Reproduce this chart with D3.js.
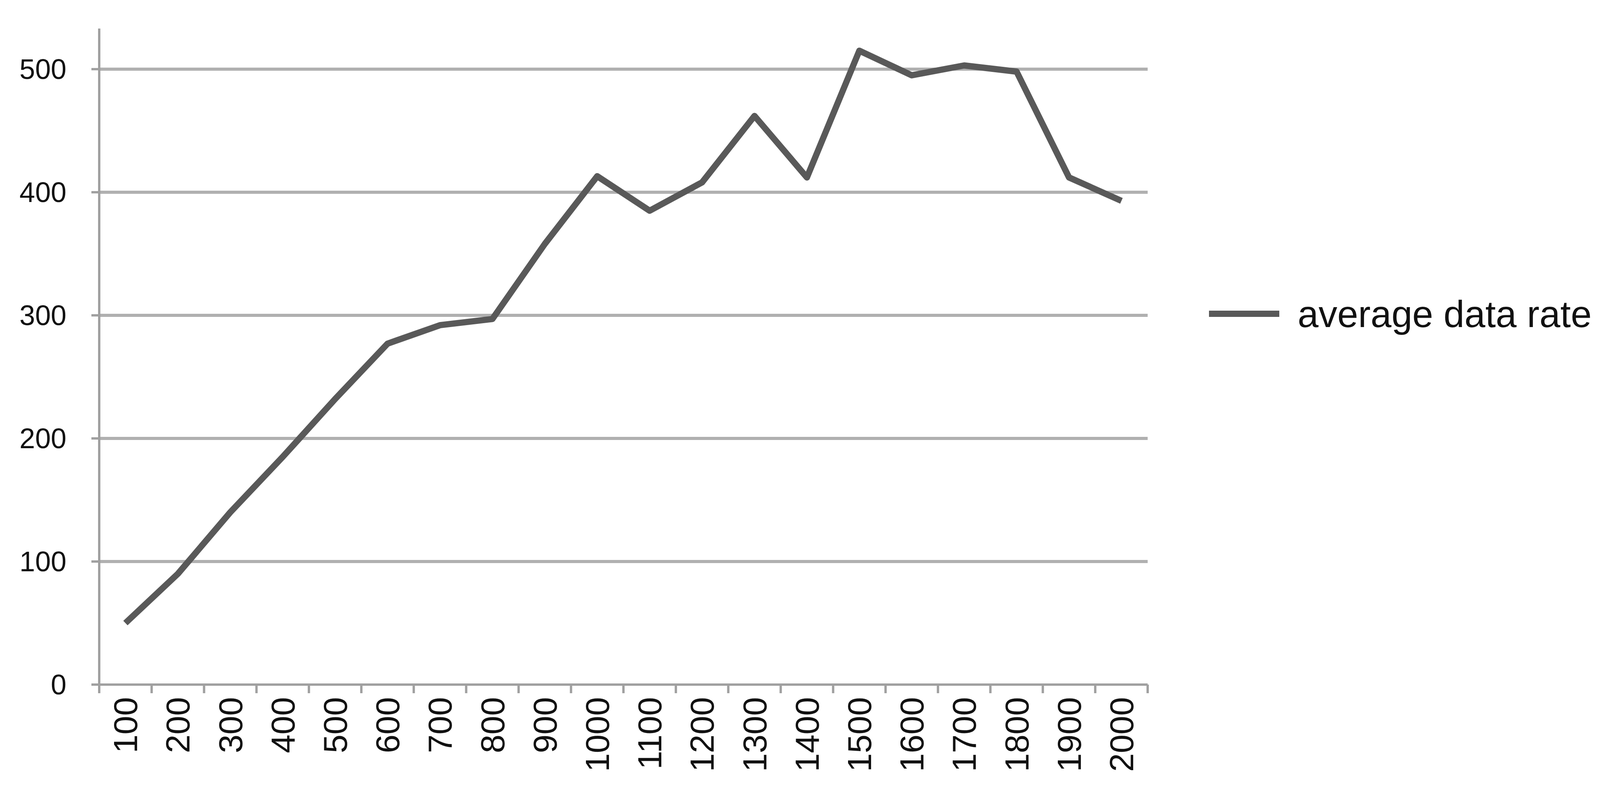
<!DOCTYPE html>
<html><head><meta charset="utf-8">
<script src="https://cdn.jsdelivr.net/npm/d3@7"></script>
<style>body{margin:0;background:#fff}</style></head>
<body><svg id="c" width="4113" height="2055"></svg>
<script>
const categories=["100","200","300","400","500","600","700","800","900","1000","1100","1200","1300","1400","1500","1600","1700","1800","1900","2000"];
const values=[50,90,140,185,232,277,292,297,358,413,385,408,462,412,515,495,503,498,412,393];
const yTicks=[0,100,200,300,400,500];
const seriesName="average data rate";

const svg=d3.select("#c");
const L=254,R=2938,T=73,B=1752;
const x=d3.scaleBand().domain(categories).range([L,R]);
const y=d3.scaleLinear().domain([0,533]).range([B,T]);
const font="'Liberation Sans',Arial,sans-serif";

svg.append("g").selectAll("line").data(yTicks.filter(d=>d>0)).join("line")
 .attr("x1",L).attr("x2",R).attr("y1",d=>y(d)).attr("y2",d=>y(d))
 .attr("stroke","#b0b0b0").attr("stroke-width",8);

svg.append("line").attr("x1",L).attr("x2",L).attr("y1",T).attr("y2",B+20).attr("stroke","#a0a0a0").attr("stroke-width",6);
svg.append("line").attr("x1",L-20).attr("x2",R).attr("y1",B).attr("y2",B).attr("stroke","#a0a0a0").attr("stroke-width",6);
svg.append("g").selectAll("line").data(categories.concat(["end"])).join("line")
 .attr("x1",(d,i)=>L+i*x.bandwidth()).attr("x2",(d,i)=>L+i*x.bandwidth())
 .attr("y1",B).attr("y2",B+22).attr("stroke","#a0a0a0").attr("stroke-width",6);
svg.append("g").selectAll("line").data(yTicks).join("line")
 .attr("x1",L-20).attr("x2",L).attr("y1",d=>y(d)).attr("y2",d=>y(d)).attr("stroke","#a0a0a0").attr("stroke-width",6);

svg.append("g").selectAll("text").data(yTicks).join("text")
 .attr("x",L-84).attr("y",d=>y(d)).attr("dy","0.35em").attr("text-anchor","end")
 .attr("font-family",font).attr("font-size",72).attr("fill","#111").text(d=>d);

svg.append("g").selectAll("text").data(categories).join("text")
 .attr("transform",d=>`translate(${x(d)+x.bandwidth()/2},${B+32}) rotate(-90)`)
 .attr("dy","0.35em").attr("text-anchor","end")
 .attr("font-family",font).attr("font-size",86).attr("fill","#111").text(d=>d);

svg.append("path").datum(values)
 .attr("d",d3.line().x((d,i)=>x(categories[i])+x.bandwidth()/2).y(d=>y(d)))
 .attr("fill","none").attr("stroke","#595959").attr("stroke-width",16).attr("stroke-linejoin","round");

svg.append("line").attr("x1",3095).attr("x2",3275).attr("y1",803).attr("y2",803).attr("stroke","#595959").attr("stroke-width",16);
svg.append("text").attr("x",3322).attr("y",803).attr("dy","0.35em")
 .attr("font-family",font).attr("font-size",96).attr("fill","#111").text(seriesName);
</script></body></html>
